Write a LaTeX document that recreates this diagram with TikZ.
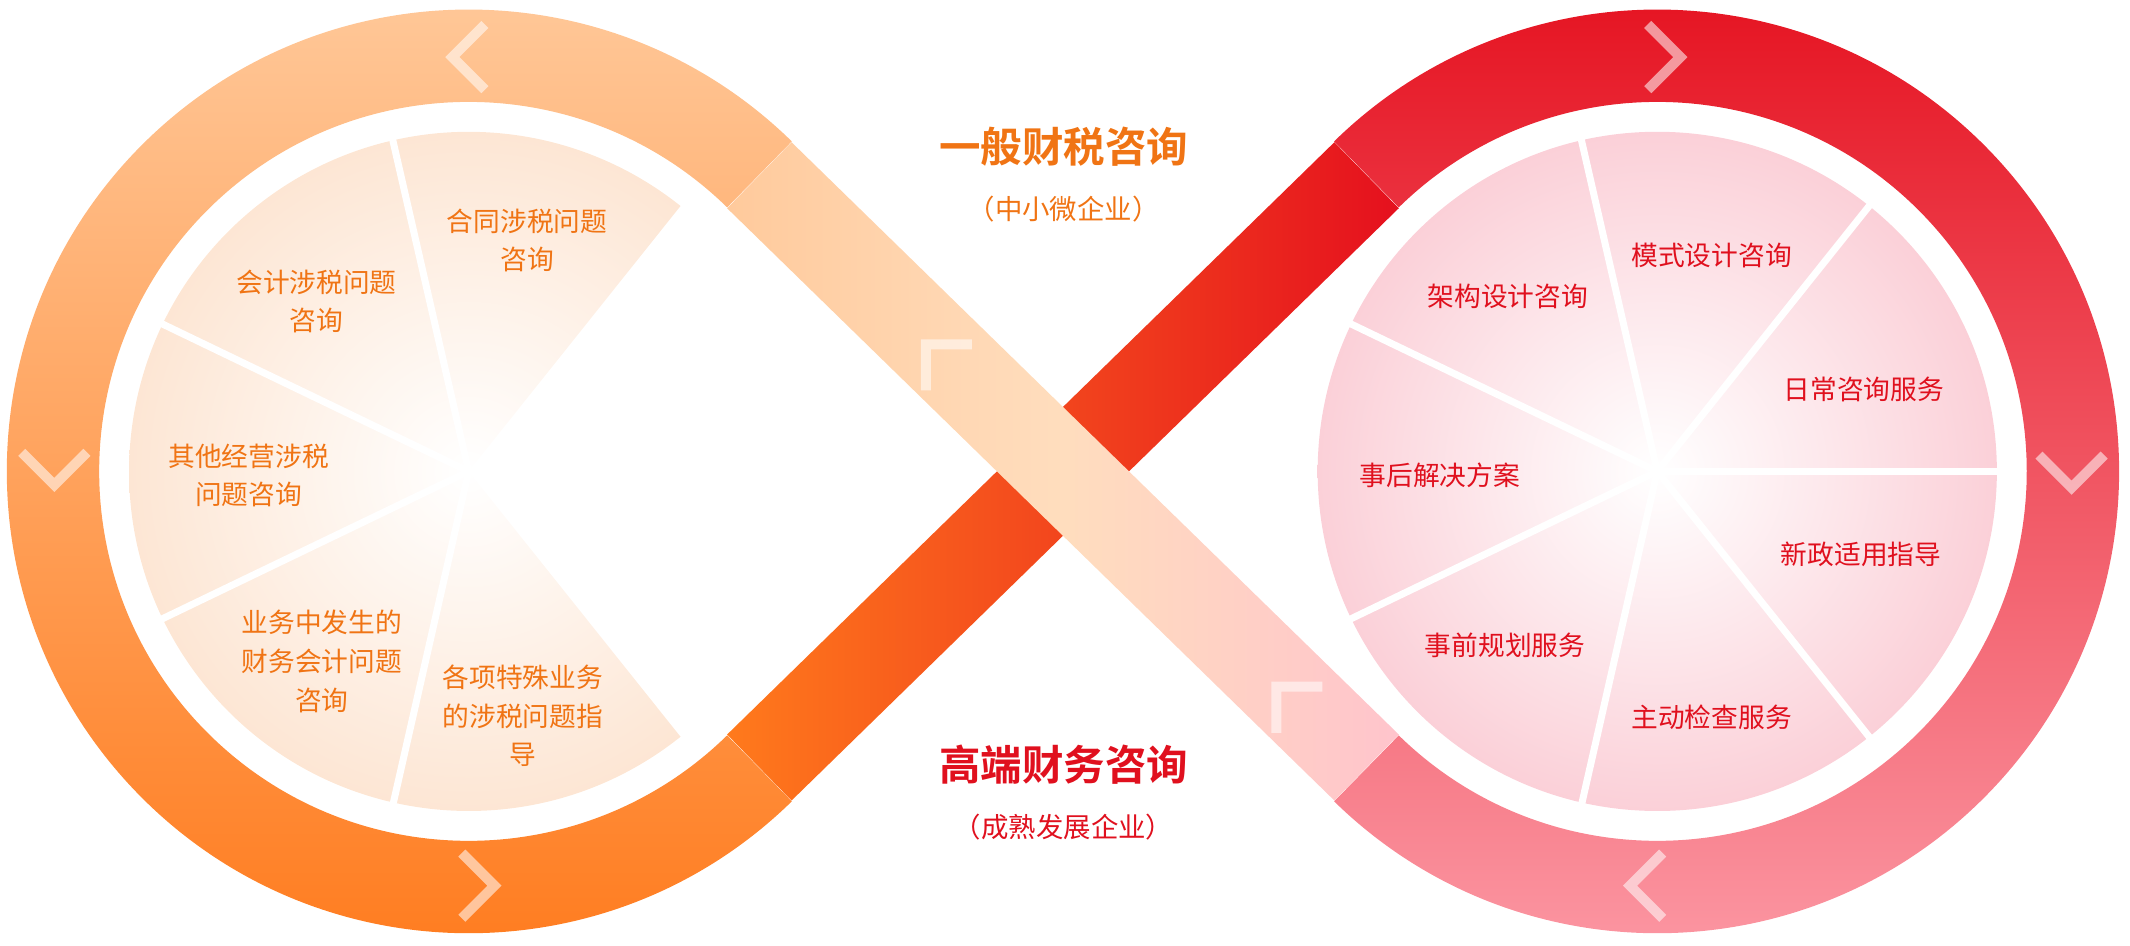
\documentclass[tikz,border=0pt]{standalone}
\usepackage{fontspec}
\setmainfont{Noto Sans CJK SC}[BoldFont={Noto Sans CJK SC Bold}]
\usetikzlibrary{positioning}
\definecolor{ringorange}{HTML}{FF7A1C}
\definecolor{ringpeach}{HTML}{FFCA9C}
\definecolor{bandpeach}{HTML}{FFCFA2}
\definecolor{bandpink}{HTML}{FFC4CC}
\definecolor{ringred}{HTML}{E5101E}
\definecolor{ringpink}{HTML}{FC9AA6}
\definecolor{txtorange}{HTML}{F07414}
\definecolor{txtred}{HTML}{E0101E}
\definecolor{pieorange}{HTML}{FDE6D4}
\definecolor{piepink}{HTML}{FBD0D8}

\begin{document}
\begin{tikzpicture}[
    x=0.013584cm, y=-0.013584cm,
    spoke/.style={white, line width=0.07cm},
    chevline/.style={white, opacity=0.55, line width=0.1cm, line join=miter},
    chev/.pic={\draw[chevline] (-12,-24) -- (12,0) -- (-12,24);},
    ltxt/.style={txtorange, align=center, font=\fontsize{7.6}{11}\selectfont},
    rtxt/.style={txtred, align=center, font=\fontsize{7.6}{11}\selectfont},
    title/.style={font=\fontsize{11.8}{14}\selectfont\bfseries},
    subtitle/.style={font=\fontsize{7.8}{10}\selectfont}
]
\useasboundingbox (0,0) rectangle (1568,696);

% centres
\coordinate (lc) at (345,347);
\coordinate (rc) at (1220,347);

% outer arcs of the loops
\shade[top color=ringpeach, bottom color=ringorange]
    (lc) ++(45.6:340) arc[start angle=45.6, end angle=314.4, radius=340]
    -- ++(314.4:-68) arc[start angle=314.4, end angle=45.6, radius=272] -- cycle;
\shade[top color=ringred, bottom color=ringpink]
    (rc) ++(134.4:340) arc[start angle=134.4, end angle=-134.4, radius=340]
    -- ++(-134.4:-68) arc[start angle=-134.4, end angle=134.4, radius=272] -- cycle;

% crossing bands
\shade[left color=ringorange, right color=ringred]
    (1029.7,153.3) -- (582.7,589.3) -- (535.3,540.7) -- (982.3,104.7) -- cycle;
\shade[left color=ringpeach, right color=bandpink, middle color=bandpeach!70!white]
    (582.7,104.7) -- (1029.7,540.7) -- (982.3,589.3) -- (535.3,153.3) -- cycle;

% chevrons
\pic[rotate=180] at (345,42) {chev};
\pic[rotate=-90] at (40,345) {chev};
\pic at (352,652) {chev};
\pic at (1225,42) {chev};
\pic[rotate=-90] at (1525,347) {chev};
\pic[rotate=180] at (1212,652) {chev};
\pic[rotate=135] at (690,262) {chev};
\pic[rotate=135] at (948,514) {chev};

% left pie
\begin{scope}
  \clip (lc) -- ++(51.4:250) arc (51.4:308.6:250) -- cycle;
  \shade[inner color=white, outer color=pieorange] (lc) circle (250);
\end{scope}
\foreach \a in {102.8,154.3,205.7,257.1}
  \draw[spoke] (lc) -- ++(\a:252);

% right pie
\shade[inner color=white, outer color=piepink] (rc) circle (250);
\foreach \a in {0,51.4,102.8,154.3,205.7,257.1,308.6}
  \draw[spoke] (rc) -- ++(\a:252);

% left labels
\node[ltxt] (hetong) at (388,177) {合同涉税问题\\咨询};
\node[ltxt] (kuaiji) at (233,222) {会计涉税问题\\咨询};
\node[ltxt] (qita) at (183,350) {其他经营涉税\\问题咨询};
\node[ltxt] (yewu) at (237,487) {业务中发生的\\财务会计问题\\咨询};
\node[ltxt] (texu) at (385,527) {各项特殊业务\\的涉税问题指\\导};

% right labels
\node[rtxt] (jiagou) at (1110,218) {架构设计咨询};
\node[rtxt] (moshi) at (1260,188) {模式设计咨询};
\node[rtxt] (richang) at (1372,287) {日常咨询服务};
\node[rtxt] (xinzheng) at (1370,408) {新政适用指导};
\node[rtxt] (zhudong) at (1260,528) {主动检查服务};
\node[rtxt] (shiqian) at (1108,475) {事前规划服务};
\node[rtxt] (shihou) at (1060,350) {事后解决方案};

% titles
\node[title, txtorange] (ybtitle) at (783,108) {一般财税咨询};
\node[subtitle, txtorange, below=0.05cm of ybtitle] (ybsub) {（中小微企业）};
\node[title, txtred] (gdtitle) at (783,563) {高端财务咨询};
\node[subtitle, txtred, below=0.05cm of gdtitle] (gdsub) {（成熟发展企业）};
\end{tikzpicture}
\end{document}
